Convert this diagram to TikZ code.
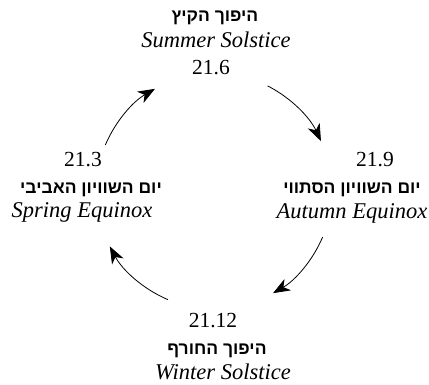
\documentclass[tikz,border=0pt]{standalone}
\usepackage{fontspec}
\setmainfont{Liberation Serif}
\newfontfamily\hebfont[Script=Hebrew]{Liberation Sans}
\TeXXeTstate=1
\usetikzlibrary{arrows.meta,calc}
\begin{document}
\begin{tikzpicture}[x=1pt,y=1pt,
  txt/.style={inner sep=0pt,anchor=base,font=\fontsize{21.5}{26}\selectfont},
  heb/.style={txt,font=\fontsize{17.5}{26}\selectfont\hebfont\bfseries},
  eng/.style={txt,font=\fontsize{22.5}{26}\selectfont\itshape},
  cyc/.style={line width=0.8pt,-{Stealth[length=17pt,width=13pt,inset=5pt]}}]
\useasboundingbox (0,0) rectangle (429,385);
% top
\node[heb] (sh) at (215,385-22) {\beginR היפוך הקיץ\endR};
\node[eng] (se) at (216,385-48) {Summer Solstice};
\node[txt] (sd) at (211,385-75) {21.6};
% left
\node[txt] (pd) at (83,385-167) {21.3};
\node[heb] (ph) at (91,385-194) {\beginR יום השוויון האביבי\endR};
\node[eng] (pe) at (82,385-218) {Spring Equinox};
% right
\node[txt] (ad) at (375,385-167) {21.9};
\node[heb] (ah) at (352,385-194) {\beginR יום השוויון הסתווי\endR};
\node[eng] (ae) at (352,385-219) {Autumn Equinox};
% bottom
\node[txt] (wd) at (213,385-328) {21.12};
\node[heb] (wh) at (217,385-355) {\beginR היפוך החורף\endR};
\node[eng] (we) at (223,385-380) {Winter Solstice};
% arcs
\coordinate (c) at (214,194);
\coordinate (s1) at ($(c)+(157:118)$);
\coordinate (s2) at ($(c)+(63:118)$);
\coordinate (s3) at ($(c)+(-23:118)$);
\coordinate (s4) at ($(c)+(-113:118)$);
\draw[cyc] (s1) arc[start angle=157,end angle=120,radius=118];
\draw[cyc] (s2) arc[start angle=63,end angle=25,radius=118];
\draw[cyc] (s3) arc[start angle=-23,end angle=-60,radius=118];
\draw[cyc] (s4) arc[start angle=-113,end angle=-152,radius=118];
\end{tikzpicture}
\end{document}
